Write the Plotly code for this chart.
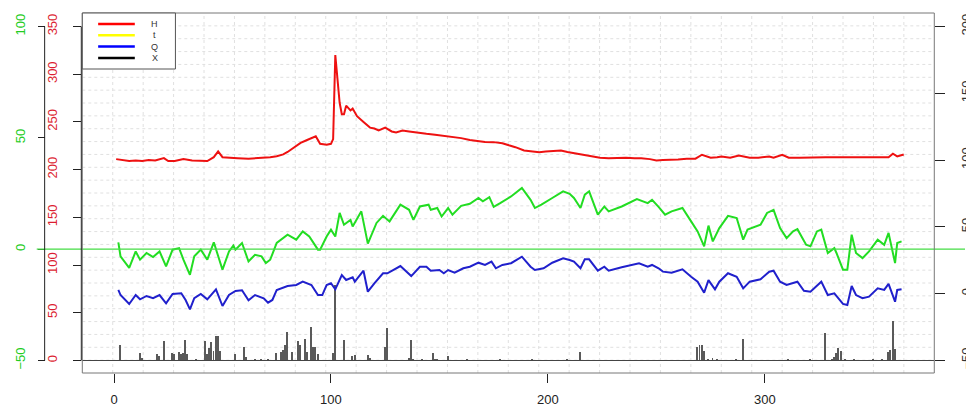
import plotly.graph_objects as go

# ---------------- data ----------------
days_H = [1, 4, 7, 10, 13, 16, 19, 23, 25, 28, 32, 36, 40, 43, 46, 48, 50, 54, 57, 62,
          66, 69, 72, 75, 78, 80, 83, 86, 89, 91, 93, 95, 98, 100, 101, 102, 103, 104, 105, 106,
          107, 108, 109, 110, 112, 115, 118, 120, 122, 125, 128, 130, 133, 136, 140, 144, 148, 152, 156, 160,
          164, 167, 171, 175, 179, 182, 185, 189, 192, 196, 199, 202, 206, 209, 212, 216, 220, 224, 228, 232,
          236, 240, 243, 247, 250, 253, 257, 260, 264, 268, 271, 275, 278, 280, 284, 288, 293, 297, 302, 304,
          308, 311, 316, 320, 324, 328, 332, 337, 342, 348, 353, 357, 359, 361, 364]
H = [211, 210, 209, 209.5, 209, 210, 209.5, 212, 209, 209, 211, 209.5, 209, 209, 213, 219, 213, 212, 212, 211.5,
     212, 212.5, 213, 214, 216, 218.5, 223, 228, 231, 233, 235, 227, 226, 227, 232, 320, 293, 270, 258, 258,
     267, 265, 262, 264, 256, 250, 244, 243, 241, 244, 240, 239, 241, 240, 238.5, 237.5, 236.5, 235.5, 234.5, 233,
     231, 230, 229, 228.8, 227.7, 225.5, 223.5, 220, 219, 218.3, 219, 219.3, 220, 218.5, 217.2, 215.5, 213.8, 212.5, 212, 212.3,
     212.4, 212, 212, 211, 209.6, 210, 210, 210.5, 211.4, 211.5, 215.6, 212.4, 213, 213.8, 212.4, 214.8, 212.4, 212.5, 213.8, 212.4,
     215.6, 212.4, 212.5, 212.4, 213, 213, 213, 213, 212.5, 212.4, 213, 213, 216.6, 213.8, 215.9]

days_t = [2, 3, 7, 10, 12, 15, 18, 21, 24, 27, 30, 32, 35, 37, 40, 43, 46, 50, 53, 55,
          56, 59, 62, 65, 68, 70, 72, 75, 80, 84, 87, 90, 94, 95, 98, 100, 102, 104, 106, 109,
          110, 114, 117, 121, 124, 127, 132, 136, 138, 141, 145, 146, 149, 151, 154, 156, 160, 164, 168, 170,
          173, 175, 178, 183, 188, 192, 194, 197, 202, 207, 210, 212, 215, 217, 219, 223, 226, 228, 234, 241,
          246, 248, 251, 254, 257, 260, 262, 266, 269, 272, 274, 276, 279, 283, 287, 290, 292, 298, 301, 304,
          307, 310, 313, 315, 319, 321, 324, 326, 329, 332, 333, 336, 338, 340, 342, 345, 348, 352, 355, 357,
          360, 361, 363]
t = [3.1, -3.2, -8.4, -1, -4.7, -1.7, -3.5, -1, -7.7, -0.2, 0.5, -4.7, -11.5, -3.2, -0.2, -4.7, 3.1, -9.2, -1, 1.6,
     -0.2, 2.8, -5.5, -2.5, -3.2, -6.2, -4.7, 2.8, 6.5, 4.3, 8, 5.7, -0.2, -0.2, 5.7, 8.8, 5.7, 16.3, 11, 13.2,
     10.2, 17, 2.5, 11.8, 15, 12.5, 20, 17.7, 13.2, 19.2, 20, 17.7, 18.5, 14.7, 18.5, 15.5, 19.5, 20.4, 23, 21.5,
     23.4, 19, 20.7, 23.7, 27.5, 22.2, 18.5, 20, 23, 26, 24.9, 23, 18.5, 24.5, 26, 15.5, 19.2, 17, 19.2, 22.5,
     20.7, 22.2, 19, 15.5, 17, 17.7, 18.5, 12.5, 8, 1.3, 10.6, 3.5, 9.5, 15, 14, 4.3, 8.8, 11, 16.3, 17.7,
     9.5, 5, 8, 9, 2, 1.3, 8, 8.8, -1.7, 0.5, -1.7, -9.2, -9.2, 6.5, -1.7, -4, -1, 4.3, 2, 7.3,
     -6.2, 2.8, 3.5]

days_Q = [2, 3, 7, 10, 12, 15, 18, 21, 24, 27, 31, 33, 35, 37, 40, 43, 47, 50, 53, 56,
          59, 62, 65, 69, 71, 73, 75, 80, 84, 87, 91, 94, 96, 98, 100, 102, 105, 107, 110, 111,
          115, 117, 120, 122, 124, 126, 132, 137, 141, 144, 146, 150, 152, 154, 157, 161, 164, 168, 171, 174,
          176, 179, 183, 188, 192, 194, 198, 202, 207, 210, 212, 215, 217, 219, 223, 226, 228, 234, 242, 246,
          248, 251, 253, 257, 262, 266, 269, 272, 274, 277, 279, 283, 287, 290, 293, 298, 302, 304, 307, 310,
          315, 318, 321, 326, 329, 332, 336, 338, 340, 342, 345, 348, 352, 355, 357, 360, 361, 363]
Q = [2.8, -1, -7.7, -1, -4.2, -1.7, -3.4, -1, -7.2, -0.2, 0.3, -4.7, -11.7, -3.4, -0.2, -4.2, 3.3, -9.2, -1, 2.1,
     2.6, -4.9, -1, -3.4, -6.7, -4.7, 2.8, 5.8, 6.5, 9, 6.5, -1, -1, 6.5, 7.8, 3.3, 14, 10.3, 12.3, 9,
     17.2, 1.5, 7.8, 11.5, 15.3, 15.3, 20.7, 13.2, 20.2, 20.2, 17.2, 17.7, 15.3, 17.7, 15.7, 19, 20.2, 23.2, 21.5, 24,
     19, 21.5, 22.8, 27.7, 20.2, 17.7, 19, 23.2, 26.5, 25.2, 24, 19, 25.7, 25.7, 17.2, 20.2, 17.2, 19.8, 22.8, 20.2,
     21.5, 19, 16.5, 15.7, 18.3, 12.7, 9, 0.7, 10.2, 3.3, 9, 15.3, 12.7, 4, 9, 10.8, 16.5, 17.2, 9, 6.5,
     9, 2.2, 1.5, 9, -1, 0.3, -7.7, -8.5, 5.8, -1, -3.4, -2.2, 4, 2.8, 7.3, -6, 2.8, 3.3]

days_X = [3, 12, 13, 20, 21, 23, 27, 28, 30, 31, 32, 33, 34, 38, 42, 43, 44, 45, 46, 47,
          48, 49, 56, 60, 61, 65, 68, 71, 75, 77, 78, 79, 80, 82, 85, 86, 88, 89, 91, 92,
          93, 94, 101, 102, 106, 110, 111, 117, 118, 125, 126, 136, 137, 138, 142, 147, 148, 149, 154, 163,
          178, 193, 209, 215, 269, 270, 271, 272, 274, 276, 278, 287, 290, 311, 321, 328, 331, 332, 333, 334,
          335, 337, 341, 350, 354, 357, 358, 359, 360]
X = [16, 8, 3, 7, 5, 20, 8, 7, 9, 7, 8, 21, 7, 2, 20, 7, 13, 19, 10, 26,
     26, 10, 7, 14.5, 3.5, 1.7, 1, 1.7, 8, 9, 10.5, 16, 29.5, 9, 20, 16, 23, 9, 35, 14.5,
     14, 7, 8, 79, 22, 5, 6, 6, 3, 14.5, 34, 3, 22, 2, 2, 8, 2, 2, 5, 2,
     1.5, 1, 1.5, 9, 14.5, 16, 16, 10, 2, 2.5, 1, 2, 23, 1, 1, 28.5, 2, 3.5, 8, 13,
     10, 2, 1, 1.5, 1.5, 9, 11, 41, 12]

red_ticks = [0, 50, 100, 150, 200, 250, 300, 350]
green_ticks = [-50, 0, 50, 100]
right_ticks = [-50, 0, 50, 100, 150, 200]
x_ticks = [0, 100, 200, 300]
legend_names = ["H", "t", "Q", "X"]
legend_colors = ["#ff0000", "#ffff00", "#0000ff", "#000000"]

# ---------------- geometry ----------------
# the page body has an 8px margin, so the figure is 8px smaller and all
# window-pixel positions are shifted by 8.
OFF = 8
W, Hh = 974 - OFF, 409 - OFF
TOP, BOT = 13 - OFF, 373 - OFF      # plot area in figure px
XR = [-14.61, 378.08]
RED_R = [-13.1, 364.1]
GREEN_R = [-55.6, 106.1]
RIGHT_R = [-59.36, 210.1]


def pxx(p):  # window pixel x -> paper x
    return (p - OFF) / W


def pyy(p):  # window pixel y -> paper y
    return (BOT - (p - OFF)) / (BOT - TOP)


RED = "#ee1111"
GREEN = "#22dd22"
BLUE = "#2020cc"
FONT = "Liberation Sans"

fig = go.Figure()
fig.add_trace(go.Bar(x=days_X, y=X, yaxis="y", width=0.45,
                     marker=dict(color="#5a5a5a", line=dict(width=0)), name="X"))
fig.add_trace(go.Scatter(x=days_H, y=H, yaxis="y", mode="lines",
                         line=dict(color=RED, width=2), name="H"))
fig.add_trace(go.Scatter(x=days_t, y=t, yaxis="y2", mode="lines",
                         line=dict(color=GREEN, width=2), name="t"))
fig.add_trace(go.Scatter(x=days_Q, y=Q, yaxis="y3", mode="lines",
                         line=dict(color=BLUE, width=2), name="Q"))

shapes = []
GRID = dict(color="#e0e0e0", width=1, dash="dot")
for k in range(1, 28):
    xv = XR[0] + k * (XR[1] - XR[0]) / 28
    shapes.append(dict(type="line", xref="x", yref="y domain", x0=xv, x1=xv, y0=0, y1=1,
                       line=GRID, layer="below"))
    shapes.append(dict(type="line", xref="x domain", yref="y domain", x0=0, x1=1, y0=k / 28, y1=k / 28,
                       line=GRID, layer="below"))
# baseline and zero line of t
shapes.append(dict(type="line", xref="x domain", yref="y", x0=0, x1=1, y0=0, y1=0,
                   line=dict(color="#444444", width=1)))
shapes.append(dict(type="line", xref="paper", yref="y2", x0=pxx(37), x1=1, y0=0, y1=0,
                   line=dict(color="#44dd44", width=1.2)))
# plot box
shapes.append(dict(type="rect", xref="x domain", yref="y domain", x0=0, x1=1, y0=0, y1=1,
                   line=dict(color="#777777", width=1)))
# axis lines (R style, from first to last tick)
shapes.append(dict(type="line", xref="paper", yref="y", x0=pxx(82), x1=pxx(82),
                   y0=red_ticks[0], y1=red_ticks[-1], line=dict(color="#222222", width=1)))
shapes.append(dict(type="line", xref="paper", yref="y2", x0=pxx(45), x1=pxx(45),
                   y0=green_ticks[0], y1=green_ticks[-1], line=dict(color="#222222", width=1)))

# legend
shapes.append(dict(type="rect", xref="paper", yref="paper", x0=pxx(83), x1=pxx(177),
                   y0=pyy(69), y1=pyy(13), fillcolor="white", line=dict(color="#555555", width=1)))
annotations = []
for i, (nm, col) in enumerate(zip(legend_names, legend_colors)):
    yy = pyy(24 + i * 11.3)
    shapes.append(dict(type="line", xref="paper", yref="paper", x0=pxx(99), x1=pxx(136),
                       y0=yy, y1=yy, line=dict(color=col, width=2.5)))
    annotations.append(dict(x=pxx(156), y=yy, xref="paper", yref="paper", text=nm,
                            showarrow=False, xanchor="center", yanchor="middle",
                            font=dict(size=9, color="#333333", family=FONT)))

axis_common = dict(showgrid=False, zeroline=False, showline=False, ticks="outside",
                   tickcolor="#222222", tickwidth=1)

fig.update_layout(
    width=W, height=Hh,
    margin=dict(l=0, r=0, t=TOP, b=Hh - BOT, pad=0),
    paper_bgcolor="white", plot_bgcolor="white",
    showlegend=False, bargap=0,
    font=dict(family=FONT, size=13, color="#222222"),
    xaxis=dict(domain=[pxx(83), pxx(943)], range=XR, tickvals=x_ticks, ticklen=9,
               tickfont=dict(size=13, color="#222222"), ticklabelstandoff=5, **axis_common),
    yaxis=dict(range=RED_R, anchor="free", position=pxx(82), side="left",
               tickvals=red_ticks, tickangle=-90, ticklabelstandoff=11, ticklen=8,
               tickfont=dict(size=13, color="#dc1e32"), **axis_common),
    yaxis2=dict(range=GREEN_R, anchor="free", position=pxx(45), side="left", overlaying="y",
                tickvals=green_ticks, tickangle=-90, ticklabelstandoff=7, ticklen=7,
                tickfont=dict(size=13, color="#22cc22"), **axis_common),
    yaxis3=dict(range=RIGHT_R, anchor="free", position=pxx(943), side="right", overlaying="y",
                tickvals=right_ticks, tickangle=-90, ticklabelstandoff=10, ticklen=10,
                tickfont=dict(size=13, color="#333333"), **axis_common),
    shapes=shapes, annotations=annotations,
)

fig.write_html("out.html")
